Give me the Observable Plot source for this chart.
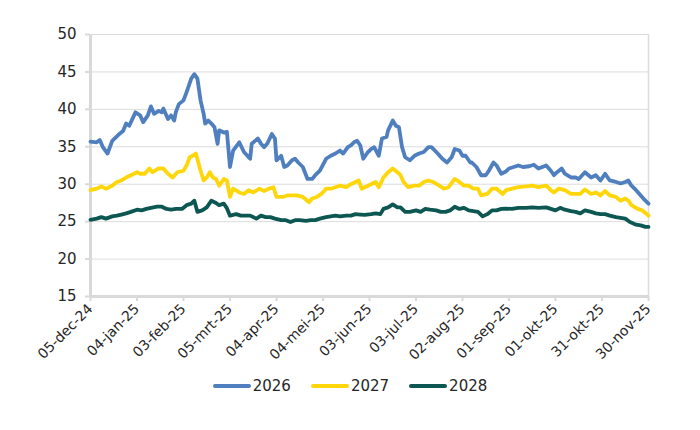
<!DOCTYPE html>
<html>
<head>
<meta charset="utf-8">
<script src="https://cdn.jsdelivr.net/npm/d3@7"></script>
<script src="https://cdn.jsdelivr.net/npm/@observablehq/plot@0.6"></script>
<style>
  body { margin: 0; background: #fff; font-family: "DejaVu Sans", sans-serif; }
  #chart { width: 700px; }
  .legend { display: flex; justify-content: center; gap: 20px; margin-top: 12px; font-size: 15px; color: #262626; }
  .legend span { display: inline-flex; align-items: center; }
  .legend i { display: inline-block; width: 38px; height: 4px; border-radius: 2px; margin-right: 2px; }
</style>
</head>
<body>
<div id="chart"></div>
<script>
// ---- data ----
const startDate = "2024-12-05";
const seriesNames = ["2026", "2027", "2028"];
const seriesColors = ["#4f7fbf", "#ffd60a", "#0d5752"];
const tickLabels = ["05-dec-24","04-jan-25","03-feb-25","05-mrt-25","04-apr-25","04-mei-25","03-jun-25","03-jul-25","02-aug-25","01-sep-25","01-okt-25","31-okt-25","30-nov-25"];
const monthsNL = ["jan","feb","mrt","apr","mei","jun","jul","aug","sep","okt","nov","dec"];
const yTicks = [15, 20, 25, 30, 35, 40, 45, 50];

// days since startDate, and values
const days2026 = [0,4,6,8,11,14,18,21,23,25,29,32,34,37,39,41,44,46,47,50,52,54,55,57,60,62,65,67,69,71,73,74,76,78,80,82,83,86,88,90,92,96,99,103,104,108,110,112,114,117,119,120,123,125,127,130,132,134,137,140,143,145,148,152,155,158,161,163,166,168,170,172,174,176,179,181,183,186,188,191,192,195,197,199,201,203,206,209,212,215,218,220,224,227,230,233,235,238,240,242,245,246,249,252,255,257,260,262,265,268,270,276,279,283,286,289,294,297,299,301,304,306,310,313,315,319,323,326,329,332,335,339,342,345,347,349,352,355,358,360];
const values2026 = [35.7,35.6,35.9,34.95,34.1,35.8,36.6,37.1,38.1,37.8,39.6,39.2,38.3,39.2,40.4,39.4,39.8,39.6,40.1,38.7,39.2,38.5,39.6,40.7,41.2,42.3,44.1,44.7,44.1,41.2,39.4,38.1,38.5,38.1,37.6,35.4,37.2,36.9,37.0,32.3,34.5,35.6,34.3,33.4,35.4,36.1,35.4,34.95,35.4,36.7,36.1,33.2,33.8,32.3,32.5,33.2,33.4,32.9,32.3,30.7,30.7,31.2,31.8,33.4,33.8,34.1,34.5,34.1,34.95,35.2,35.6,35.8,35.2,33.4,34.3,34.7,34.95,33.8,36.1,36.3,37.2,38.5,37.8,37.6,34.95,33.6,33.2,33.8,34.1,34.3,34.95,34.95,34.1,33.4,32.9,33.6,34.7,34.5,33.8,33.8,32.9,32.9,32.3,31.2,31.2,31.8,32.9,32.5,31.4,31.7,32.1,32.5,32.3,32.4,32.6,32.1,32.5,31.8,31.2,31.6,32.1,31.4,30.9,30.9,30.7,31.6,30.9,31.2,30.5,31.4,30.5,30.3,30.1,30.3,30.5,29.8,29.2,28.5,27.8,27.4];

const days2027 = [0,4,7,10,14,17,20,23,26,30,32,35,38,40,44,47,50,53,56,60,62,64,66,68,71,73,75,77,79,81,83,86,88,90,92,96,99,102,105,109,112,115,118,120,124,127,130,133,137,141,143,146,149,152,155,158,161,165,168,171,173,175,177,181,184,186,189,192,195,198,200,202,205,209,212,215,218,221,225,228,231,235,238,241,244,247,250,252,256,259,262,266,268,272,276,281,285,289,294,297,299,302,306,310,313,316,319,323,326,329,332,335,339,342,345,347,349,353,356,359,360];
const values2027 = [29.2,29.4,29.7,29.4,29.8,30.3,30.5,30.9,31.2,31.6,31.4,31.4,32.1,31.6,32.1,32.1,31.4,30.9,31.6,31.8,32.5,33.6,33.8,34.1,31.8,30.5,30.9,31.6,30.9,30.7,29.8,30.7,30.5,28.3,29.4,28.9,28.7,29.2,28.9,29.4,29.1,29.4,29.6,28.3,28.3,28.5,28.5,28.5,28.3,27.6,28.1,28.3,28.7,29.4,29.4,29.6,29.8,29.6,30.0,30.3,30.5,29.4,29.6,30.0,30.3,29.6,30.9,31.6,32.1,31.6,31.2,30.3,29.6,29.8,29.8,30.3,30.5,30.3,29.8,29.4,29.6,30.7,30.3,29.8,29.8,29.4,29.4,28.5,28.7,29.4,29.4,28.7,29.2,29.4,29.6,29.7,29.8,29.6,29.8,29.2,28.9,29.4,29.2,28.7,28.7,28.7,29.3,28.7,28.9,28.5,29.1,28.5,28.3,27.8,28.1,27.8,27.2,26.7,26.5,26.0,25.8];

const days2028 = [0,4,7,10,14,17,20,23,26,30,33,36,39,43,46,49,52,55,59,62,65,67,69,72,75,78,81,83,86,88,90,94,97,100,103,107,110,113,116,119,123,126,129,132,135,139,142,145,148,152,155,158,161,165,168,171,174,177,181,184,187,189,192,195,198,200,203,206,210,213,216,219,223,226,229,232,235,238,241,244,247,250,253,256,259,262,265,268,272,276,281,285,289,294,297,300,303,306,310,313,316,319,323,326,329,332,335,339,342,345,348,352,355,358,360];
const values2028 = [25.25,25.4,25.6,25.4,25.7,25.8,25.95,26.1,26.3,26.6,26.5,26.7,26.85,27.0,27.0,26.7,26.6,26.7,26.7,27.2,27.4,27.8,26.3,26.5,26.9,27.8,27.5,27.2,27.4,26.8,25.8,26.0,25.8,25.8,25.8,25.4,25.8,25.6,25.6,25.4,25.2,25.2,24.95,25.2,25.2,25.1,25.2,25.2,25.4,25.6,25.7,25.8,25.7,25.8,25.8,26.0,25.95,25.9,26.0,26.1,26.0,26.7,26.9,27.3,26.9,26.9,26.3,26.3,26.5,26.3,26.7,26.6,26.5,26.3,26.3,26.5,27.0,26.7,26.85,26.5,26.4,26.3,25.7,26.0,26.5,26.5,26.7,26.75,26.7,26.85,26.85,26.9,26.85,26.9,26.7,26.5,26.85,26.6,26.4,26.3,26.1,26.5,26.3,26.1,26.0,26.0,25.8,25.6,25.5,25.4,24.95,24.6,24.5,24.3,24.3];

// ---- build table ----
const start = new Date(startDate + "T00:00:00Z");
const parseNL = s => { const [d, m, y] = s.split("-"); return new Date(Date.UTC(2000 + +y, monthsNL.indexOf(m), +d)); };
const tickDates = tickLabels.map(parseNL);
const labelOf = new Map(tickDates.map((d, i) => [+d, tickLabels[i]]));
const allDays = [days2026, days2027, days2028];
const allValues = [values2026, values2027, values2028];
const rows = [];
seriesNames.forEach((name, k) => {
  allDays[k].forEach((dd, i) => rows.push({series: name, date: d3.utcDay.offset(start, dd), value: allValues[k][i]}));
});
const endDate = tickDates[tickDates.length - 1];

const chart = Plot.plot({
  width: 700,
  height: 365,
  marginLeft: 90,
  marginRight: 52,
  marginTop: 34,
  marginBottom: 69,
  style: { fontFamily: "DejaVu Sans, sans-serif", fontSize: "14px", color: "#262626", background: "#fff" },
  x: { type: "utc", domain: [tickDates[0], endDate] },
  y: { domain: [15, 50] },
  color: { domain: seriesNames, range: seriesColors },
  marks: [
    Plot.gridY(yTicks, { stroke: "#dcdcdc", strokeOpacity: 1, strokeWidth: 1 }),
    Plot.ruleX([endDate], { stroke: "#dcdcdc", strokeWidth: 1.5 }),
    Plot.ruleX([tickDates[0]], { stroke: "#d9d9d9", strokeWidth: 3 }),
    Plot.ruleY([15], { stroke: "#d9d9d9", strokeWidth: 3 }),
    Plot.axisY(yTicks, { tickSize: 5, tickPadding: 9, stroke: "#d9d9d9", strokeWidth: 2, fill: "#262626", fontSize: 15, label: null }),
    Plot.axisX(tickDates, { tickSize: 5, tickPadding: 5, stroke: "#d9d9d9", strokeWidth: 2, fill: "#262626", fontSize: 14, tickRotate: -45, tickFormat: d => labelOf.get(+d), label: null }),
    Plot.line(rows, { x: "date", y: "value", z: "series", stroke: "series", strokeWidth: 3.8, strokeLinejoin: "round", strokeLinecap: "round" })
  ]
});
document.getElementById("chart").appendChild(chart);

const legend = document.createElement("div");
legend.className = "legend";
seriesNames.forEach((n, i) => {
  const s = document.createElement("span");
  s.innerHTML = `<i style="background:${seriesColors[i]}"></i>${n}`;
  legend.appendChild(s);
});
document.body.appendChild(legend);
</script>
</body>
</html>
